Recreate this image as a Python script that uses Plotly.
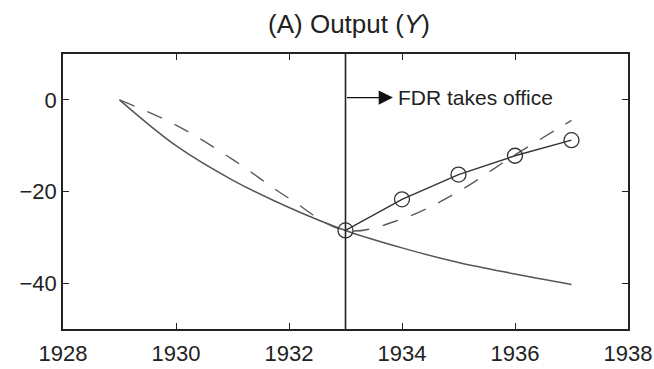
import plotly.graph_objects as go

# Data
years_base = [1929, 1930, 1931, 1932, 1933, 1934, 1935, 1936, 1937]
no_fdr = [0, -10, -17.5, -23.5, -28.5, -32.3, -35.5, -38.0, -40.3]

years_dash = [1929, 1930, 1931, 1932, 1933, 1934, 1935, 1936, 1937]
model = [0, -5.5, -13, -21.5, -28.5, -26, -20, -12, -4.5]

years_data = [1933, 1934, 1935, 1936, 1937]
actual = [-28.5, -21.7, -16.3, -12.2, -8.8]

x_ticks = [1928, 1930, 1932, 1934, 1936, 1938]
y_ticks = [0, -20, -40]
fdr_year = 1933
title_text = "(A) Output (<i>Y</i>)"
note_text = "FDR takes office"

FONT = "Liberation Sans, Arial, sans-serif"

fig = go.Figure()
fig.add_trace(go.Scatter(x=years_base, y=no_fdr, mode="lines",
                         line=dict(color="#555555", width=1.5, shape="spline"),
                         showlegend=False))
fig.add_trace(go.Scatter(x=years_dash, y=model, mode="lines",
                         line=dict(color="#5a5a5a", width=1.4, dash="16px,14px", shape="spline"),
                         showlegend=False))
fig.add_trace(go.Scatter(x=years_data, y=actual, mode="lines+markers",
                         line=dict(color="#333333", width=1.4),
                         marker=dict(symbol="circle-open", size=15, color="#333333",
                                     line=dict(width=1.3, color="#333333")),
                         showlegend=False))

fig.add_shape(type="line", x0=fdr_year, x1=fdr_year, y0=0, y1=1, yref="paper", xref="x",
              line=dict(color="#222222", width=1.6))

fig.add_annotation(x=fdr_year + 0.84, y=0.5, ax=fdr_year, ay=0.5, axref="x", ayref="y",
                   xref="x", yref="y", text="", showarrow=True,
                   arrowhead=2, arrowsize=2.2, arrowwidth=1.3, arrowcolor="#111111")
fig.add_annotation(x=fdr_year + 0.9, y=0.5, xref="x", yref="y", text=note_text,
                   showarrow=False, xanchor="left", yanchor="middle",
                   font=dict(size=21, color="#222222", family=FONT))

fig.update_layout(
    width=654, height=369,
    margin=dict(l=63, r=26, t=54, b=40),
    paper_bgcolor="white", plot_bgcolor="white",
    title=dict(text=title_text, x=0.5336, xanchor="center", y=0.936, yanchor="middle",
               font=dict(size=26, color="#222222", family=FONT)),
    font=dict(family=FONT, size=22, color="#222222"),
)
fig.update_xaxes(range=[1928, 1938], tickvals=x_ticks, ticktext=[str(v) for v in x_ticks],
                 showgrid=False, zeroline=False, showline=True, linecolor="#222222",
                 linewidth=1.5, mirror="ticks", ticks="inside", ticklen=6,
                 tickcolor="#222222", tickwidth=1.3, ticklabelstandoff=4,
                 automargin=False)
fig.update_yaxes(range=[-50, 10], tickvals=y_ticks,
                 ticktext=["0", "\u221220", "\u221240"],
                 showgrid=False, zeroline=False, showline=True, linecolor="#222222",
                 linewidth=1.5, mirror="ticks", ticks="inside", ticklen=6,
                 tickcolor="#222222", tickwidth=1.3, automargin=False)

fig.write_html("out.html", config={"displayModeBar": False},
               post_script="document.body.style.margin='0';document.body.style.padding='0';document.body.style.overflow='hidden';")
